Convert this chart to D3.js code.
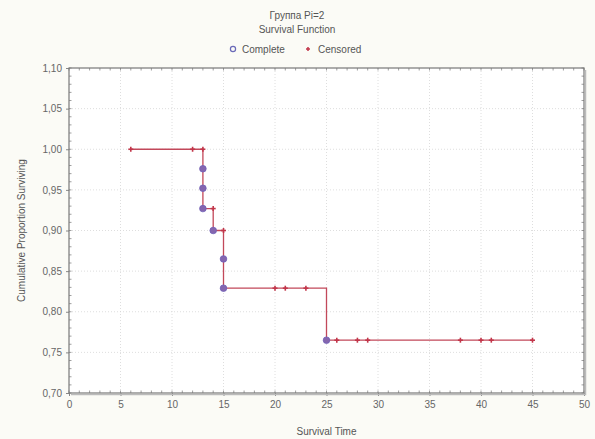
<!DOCTYPE html>
<html><head><meta charset="utf-8">
<script src="https://cdn.jsdelivr.net/npm/d3@7"></script>
<style>
html,body{margin:0;padding:0;background:#fbfbf6;}
svg{display:block;}
text{font-family:"Liberation Sans",Arial,sans-serif;fill:#555;}
</style></head>
<body>
<svg id="c" width="595" height="439"></svg>
<script>
// Kaplan-Meier step path (time, survival)
const stepTimes = [6, 13, 13, 13, 13, 14, 14, 15, 15, 15, 25, 25, 45];
const stepSurv  = [1.0, 1.0, 0.976, 0.952, 0.927, 0.927, 0.900, 0.900, 0.865, 0.829, 0.829, 0.765, 0.765];
// complete (event) observations
const completeTimes = [13, 13, 13, 14, 15, 15, 25];
const completeSurv  = [0.976, 0.952, 0.927, 0.900, 0.865, 0.829, 0.765];
// censored observations
const censTimes = [6, 12, 13, 14, 15, 20, 21, 23, 26, 28, 29, 38, 40, 41, 45];
const censSurv  = [1.0, 1.0, 1.0, 0.927, 0.900, 0.829, 0.829, 0.829, 0.765, 0.765, 0.765, 0.765, 0.765, 0.765, 0.765];
const xTicks = [0,5,10,15,20,25,30,35,40,45,50];
const yTicks = [0.70,0.75,0.80,0.85,0.90,0.95,1.00,1.05,1.10];
const titleLines = ["Группа Pi=2", "Survival Function"];
const legendLabels = ["Complete", "Censored"];

const svg = d3.select("#c");
const L = 69, R = 584, T = 68, B = 393;
const x = d3.scaleLinear().domain([0,50]).range([L,R]);
const y = d3.scaleLinear().domain([0.70,1.10]).range([B,T]);
const lineCol = "#c2485a", compCol = "#8566ae", censCol = "#c2364a";

// plot background
svg.append("rect").attr("x",L).attr("y",T).attr("width",R-L).attr("height",B-T).attr("fill","#fff");

// grid
const g = svg.append("g");
g.selectAll(".gx").data(xTicks.slice(1,-1)).join("line")
  .attr("x1",d=>x(d)).attr("x2",d=>x(d)).attr("y1",T).attr("y2",B)
  .attr("stroke","#d6d6d6").attr("stroke-width",0.8).attr("stroke-dasharray","1,2");
g.selectAll(".gy").data(yTicks.slice(1,-1)).join("line")
  .attr("y1",d=>y(d)).attr("y2",d=>y(d)).attr("x1",L).attr("x2",R)
  .attr("stroke","#d6d6d6").attr("stroke-width",0.8).attr("stroke-dasharray","1,2");

// minor ticks on all four sides
const xMinor = d3.range(0,51,1), yMinor = d3.range(70,111,1).map(v=>v/100);
const tk = svg.append("g").attr("stroke","#888").attr("stroke-width",0.8);
tk.selectAll(".mb").data(xMinor).join("line").attr("x1",d=>x(d)).attr("x2",d=>x(d)).attr("y1",B).attr("y2",B-2.5);
tk.selectAll(".mt").data(xMinor).join("line").attr("x1",d=>x(d)).attr("x2",d=>x(d)).attr("y1",T).attr("y2",T+2.5);
tk.selectAll(".ml").data(yMinor).join("line").attr("y1",d=>y(d)).attr("y2",d=>y(d)).attr("x1",L).attr("x2",L+2.5);
tk.selectAll(".mr").data(yMinor).join("line").attr("y1",d=>y(d)).attr("y2",d=>y(d)).attr("x1",R).attr("x2",R-2.5);

// axes
const xa = svg.append("g").attr("transform",`translate(0,${B})`)
  .call(d3.axisBottom(x).tickValues(xTicks).tickSize(3).tickPadding(5).tickFormat(d3.format("d")));
const ya = svg.append("g").attr("transform",`translate(${L},0)`)
  .call(d3.axisLeft(y).tickValues(yTicks).tickSize(3).tickPadding(4).tickFormat(d=>d3.format(".2f")(d).replace(".",",")));
[xa,ya].forEach(a=>{
  a.select(".domain").remove();
  a.selectAll(".tick line").attr("stroke","#888");
  a.selectAll("text").attr("font-size",10).style("fill","#666");
});

// frame
svg.append("rect").attr("x",L).attr("y",T).attr("width",R-L).attr("height",B-T)
  .attr("fill","none").attr("stroke","#777").attr("stroke-width",1.2);
svg.append("path").attr("d",`M${R+1.5},${T+2}V${B+1.5}H${L+2}`).attr("fill","none").attr("stroke","#bbb").attr("stroke-width",1.5);

// step line
const pts = stepTimes.map((t,i)=>[x(t),y(stepSurv[i])]);
svg.append("path").attr("d","M"+pts[0][0]+","+pts[0][1]+pts.slice(1).map(p=>`H${p[0]}V${p[1]}`).join(""))
  .attr("fill","none").attr("stroke",lineCol).attr("stroke-width",1.3);

// censored markers
const cs = svg.append("g").attr("stroke",censCol).attr("stroke-width",1.6);
censTimes.forEach((t,i)=>{
  const cx=x(t), cy=y(censSurv[i]);
  cs.append("line").attr("x1",cx-2.5).attr("x2",cx+2.5).attr("y1",cy).attr("y2",cy);
  cs.append("line").attr("x1",cx).attr("x2",cx).attr("y1",cy-2.5).attr("y2",cy+2.5);
});
// complete markers
svg.append("g").selectAll("circle").data(completeTimes).join("circle")
  .attr("cx",d=>x(d)).attr("cy",(d,i)=>y(completeSurv[i])).attr("r",3.3)
  .attr("fill",compCol).attr("stroke","#7060b8").attr("stroke-width",0.8);

// titles
svg.selectAll(".title").data(titleLines).join("text")
  .attr("x",297).attr("y",(d,i)=>19+i*14).attr("text-anchor","middle").attr("font-size",10)
  .style("fill","#555").text(d=>d);
// legend
const lg = svg.append("g");
lg.append("circle").attr("cx",233).attr("cy",49).attr("r",2.6).attr("fill","none").attr("stroke","#6a6ab8").attr("stroke-width",1.2);
lg.append("text").attr("x",242).attr("y",53).attr("font-size",10).text(legendLabels[0]);
lg.append("line").attr("x1",306).attr("x2",310).attr("y1",49).attr("y2",49).attr("stroke",censCol).attr("stroke-width",1.5);
lg.append("line").attr("x1",308).attr("x2",308).attr("y1",47).attr("y2",51).attr("stroke",censCol).attr("stroke-width",1.5);
lg.append("text").attr("x",318).attr("y",53).attr("font-size",10).text(legendLabels[1]);

// axis titles
svg.append("text").attr("x",(L+R)/2).attr("y",435).attr("text-anchor","middle").attr("font-size",10).text("Survival Time");
svg.append("text").attr("transform",`translate(25,${(T+B)/2}) rotate(-90)`).attr("text-anchor","middle").attr("font-size",10).text("Cumulative Proportion Surviving");
</script>
</body></html>
